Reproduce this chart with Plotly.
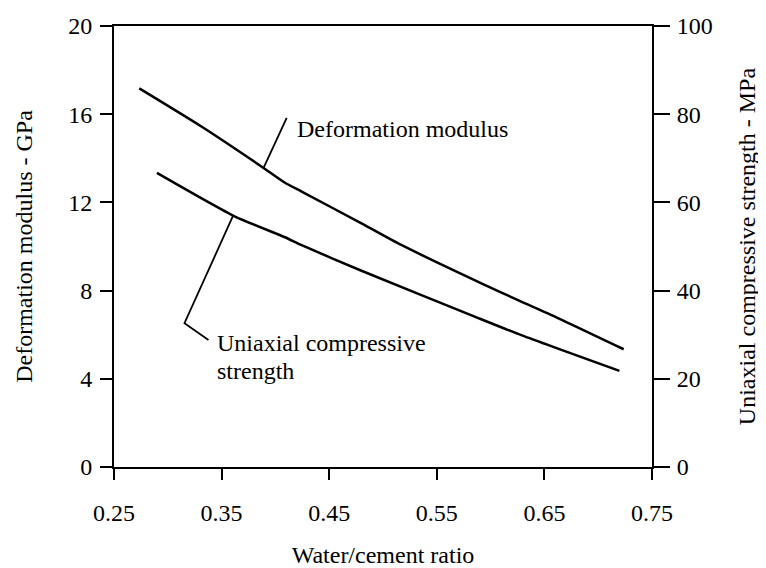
import plotly.graph_objects as go

# Data
wc_modulus = [0.2735, 0.3316, 0.3873, 0.4089, 0.4244, 0.480, 0.517, 0.5914, 0.6285, 0.6532, 0.7237]
modulus_gpa = [17.17, 15.43, 13.62, 12.89, 12.49, 11.05, 10.07, 8.33, 7.50, 6.97, 5.34]

wc_ucs = [0.2899, 0.3625, 0.4089, 0.4244, 0.480, 0.5852, 0.6285, 0.7197]
ucs_mpa = [66.7, 56.8, 52.1, 50.3, 44.5, 34.1, 29.9, 21.8]

x_ticks = [0.25, 0.35, 0.45, 0.55, 0.65, 0.75]
y_left_ticks = [0, 4, 8, 12, 16, 20]
y_right_ticks = [0, 20, 40, 60, 80, 100]

FONT = "Liberation Serif, Times New Roman, serif"
FS = 24

fig = go.Figure()
fig.add_trace(go.Scatter(x=wc_modulus, y=modulus_gpa, mode="lines",
                         line=dict(color="black", width=2.5, shape="spline", smoothing=0.6),
                         showlegend=False, yaxis="y"))
fig.add_trace(go.Scatter(x=wc_ucs, y=ucs_mpa, mode="lines",
                         line=dict(color="black", width=2.5, shape="spline", smoothing=0.6),
                         showlegend=False, yaxis="y2"))

axis_common = dict(showgrid=False, zeroline=False, showline=True, linecolor="black",
                   linewidth=2, ticks="outside", tickcolor="black", tickwidth=2,
                   tickfont=dict(family=FONT, size=FS, color="black"), automargin=False)

fig.update_layout(
    width=758, height=560,
    margin=dict(l=106, r=114, t=18, b=101),
    paper_bgcolor="white", plot_bgcolor="white",
    font=dict(family=FONT, size=FS, color="black"),
    xaxis=dict(range=[0.25, 0.75], tickvals=x_ticks, ticktext=[f"{v:.2f}" for v in x_ticks],
               ticklen=11, mirror=True, ticklabelstandoff=12,
               title=dict(text="Water/cement ratio", standoff=24,
                          font=dict(family=FONT, size=FS, color="black")),
               **axis_common),
    yaxis=dict(range=[0, 20], tickvals=y_left_ticks, ticklen=12, ticklabelstandoff=3,
               title=dict(text="Deformation modulus - GPa", standoff=29,
                          font=dict(family=FONT, size=FS, color="black")),
               **axis_common),
    yaxis2=dict(range=[0, 100], tickvals=y_right_ticks, ticklen=16, ticklabelstandoff=2,
                overlaying="y", side="right", anchor="x",
                title=dict(text="Uniaxial compressive strength - MPa", standoff=26,
                           font=dict(family=FONT, size=FS, color="black")),
                **axis_common),
)

# Leader lines for labels
fig.add_shape(type="line", xref="x", yref="y", x0=0.4105, y0=15.83, x1=0.3889, y1=13.55,
              line=dict(color="black", width=1.8))
fig.add_shape(type="path", xref="x", yref="y",
              path="M 0.3378 5.76 L 0.3155 6.52 L 0.3610 11.43",
              line=dict(color="black", width=1.8))

fig.add_annotation(x=0.4179, y=15.33, xref="x", yref="y", text="Deformation modulus",
                   showarrow=False, xanchor="left", yanchor="middle",
                   font=dict(family=FONT, size=FS, color="black"))
fig.add_annotation(x=0.344, y=5.62, xref="x", yref="y", text="Uniaxial compressive",
                   showarrow=False, xanchor="left", yanchor="middle",
                   font=dict(family=FONT, size=FS, color="black"))
fig.add_annotation(x=0.344, y=4.35, xref="x", yref="y", text="strength",
                   showarrow=False, xanchor="left", yanchor="middle",
                   font=dict(family=FONT, size=FS, color="black"))

fig.write_html("out.html")
